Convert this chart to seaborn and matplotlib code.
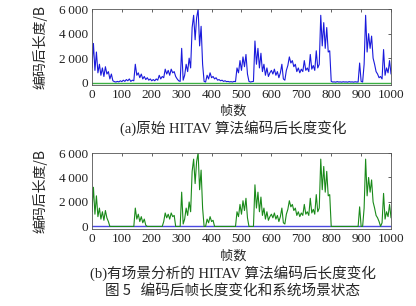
import numpy as np
import pandas as pd
import seaborn as sns
import matplotlib
matplotlib.use("Agg")
import matplotlib.pyplot as plt

# ---- data (frame length after coding, sampled every 5 frames) ----
frames = np.arange(0, 1001, 5)

len_original = [
    1200, 3200, 1000, 2500, 800, 1500, 600, 1200, 500, 1300,      # 0
    700, 900, 300, 700, 150, 80, 50, 100, 60, 150,                # 50
    80, 200, 100, 250, 150, 300, 100, 200, 150, 1500,             # 100
    600, 800, 400, 700, 300, 500, 250, 400, 200, 300,             # 150
    150, 250, 150, 300, 200, 600, 300, 500, 400, 1100,            # 200
    700, 1000, 600, 1100, 800, 900, 500, 300, 150, 100,           # 250
    2800, 200, 600, 1500, 900, 2000, 1200, 4500, 5500, 3500,      # 300
    5300, 6000, 3000, 4600, 1500, 100, 50, 600, 300, 800,         # 350
    400, 500, 300, 400, 200, 250, 150, 200, 100, 150,             # 400
    80, 100, 60, 80, 50, 100, 80, 1200, 800, 1800,                # 450
    1000, 2100, 1300, 2300, 700, 100, 50, 80, 100, 3400,          # 500
    1500, 2800, 1200, 2400, 900, 1500, 600, 1200, 500, 800,       # 550
    1000, 700, 1100, 600, 900, 400, 800, 1500, 300, 200,          # 600
    1000, 1400, 2100, 1600, 1800, 1300, 1500, 900, 1200, 800,     # 650
    1100, 900, 1800, 1000, 1200, 900, 2300, 1100, 1400, 1000,     # 700
    2600, 1200, 1500, 5500, 3000, 4900, 2800, 4500, 2500, 2600,   # 750
    100, 50, 60, 40, 80, 50, 60, 40, 70, 50,                      # 800
    60, 40, 80, 50, 60, 40, 70, 50, 50, 1600,                     # 850
    100, 50, 1500, 5500, 2500, 4000, 2800, 3800, 2000, 1500,      # 900
    900, 700, 400, 500, 300, 2700, 600, 1200, 800, 1800,          # 950
    700,                                                          # 1000
]

len_scene = [
    1200, 3200, 1000, 2500, 800, 1500, 600, 1200, 500, 1300,      # 0
    700, 400, 0, 0, 0, 0, 0, 0, 0, 0,                             # 50
    0, 0, 0, 0, 0, 0, 0, 0, 0, 1500,                              # 100
    600, 1000, 400, 800, 300, 600, 100, 0, 0, 0,                  # 150
    0, 0, 0, 0, 0, 0, 0, 0, 400, 1100,                            # 200
    700, 1000, 600, 1100, 800, 900, 0, 0, 0, 0,                   # 250
    2800, 200, 600, 1500, 900, 2000, 1200, 4500, 5500, 3500,      # 300
    5300, 6000, 3000, 4600, 1500, 0, 0, 600, 300, 800,            # 350
    400, 500, 0, 0, 0, 0, 0, 0, 0, 0,                             # 400
    0, 0, 0, 0, 0, 0, 0, 1200, 800, 1800,                         # 450
    1000, 2100, 1300, 2300, 700, 0, 0, 0, 0, 3400,                # 500
    1500, 2800, 1200, 2400, 900, 1500, 600, 1200, 500, 800,       # 550
    1000, 700, 1100, 600, 900, 400, 800, 1500, 300, 200,          # 600
    1000, 1400, 2100, 1600, 1800, 1300, 1500, 900, 1200, 800,     # 650
    1100, 900, 1800, 1000, 1200, 900, 2300, 1100, 1400, 1000,     # 700
    2600, 1200, 1500, 5500, 3000, 4900, 2800, 4500, 2500, 2600,   # 750
    0, 0, 0, 0, 0, 0, 0, 0, 0, 0,                                 # 800
    0, 0, 0, 0, 0, 0, 0, 0, 0, 1600,                              # 850
    0, 0, 1500, 5500, 2500, 4000, 2800, 3800, 2000, 1500,         # 900
    900, 700, 400, 0, 300, 2700, 600, 1200, 800, 1800,            # 950
    700,                                                          # 1000
]

state_frames = [0, 1000]
state_level = [0, 0]

yticks = [0, 2000, 4000, 6000]
ytick_labels = ["0", "2\u2009000", "4\u2009000", "6\u2009000"]
xticks = [0, 100, 200, 300, 400, 500, 600, 700, 800, 900, 1000]

ylabel = "编码后长度/B"
xlabel = "帧数"
caption_a = "(a)原始 HITAV 算法编码后长度变化"
caption_b = "(b)有场景分析的 HITAV 算法编码后长度变化"
fig_caption = "图 5   编码后帧长度变化和系统场景状态"

# ---- style ----
sns.set_style("white")
plt.rcParams['font.family'] = ['Liberation Serif', 'Noto Sans CJK SC', 'DejaVu Sans']

fig = plt.figure(figsize=(4.16, 3.06), dpi=100)
ax1 = fig.add_axes([0.221, 0.722, 0.719, 0.248])
ax2 = fig.add_axes([0.221, 0.252, 0.719, 0.248])

df_a = pd.DataFrame({"frame": frames, "len": len_original})
df_b = pd.DataFrame({"frame": frames, "len": len_scene})
df_s = pd.DataFrame({"frame": state_frames, "state": state_level})

sns.lineplot(data=df_s, x="frame", y="state", ax=ax1, color="#3cb043", lw=1.0)
sns.lineplot(data=df_a, x="frame", y="len", ax=ax1, color="#1a1adc", lw=0.8)
sns.lineplot(data=df_s, x="frame", y="state", ax=ax2, color="#4a4ae0", lw=1.0)
sns.lineplot(data=df_b, x="frame", y="len", ax=ax2, color="#1a8a1a", lw=0.8)

cjk = ['Noto Sans CJK SC', 'DejaVu Sans']
for ax in (ax1, ax2):
    ax.set_xlim(0, 1000)
    ax.set_ylim(-200, 6000)
    ax.set_xticks(xticks)
    ax.set_xticklabels([str(t) for t in xticks], fontsize=9.5)
    ax.set_yticks(yticks)
    ax.set_yticklabels(ytick_labels, fontsize=9.5)
    ax.tick_params(direction='in', length=2, width=0.5, top=True, right=True,
                   pad=3, colors='#222222')
    for s in ax.spines.values():
        s.set_color('#555555')
        s.set_linewidth(0.6)
    ax.set_xlabel("")
    ax.set_ylabel(ylabel, family=cjk, fontsize=10)
    ax.yaxis.set_label_coords(-0.15, 0.5)

fig.text(0.56, 1 - 111 / 306, xlabel, family=cjk, fontsize=9.5, ha='center', va='center')
fig.text(0.56, 1 - 128 / 306, caption_a, fontsize=10.5, ha='center', va='center')
fig.text(0.56, 1 - 256 / 306, xlabel, family=cjk, fontsize=9.5, ha='center', va='center')
fig.text(0.56, 1 - 273 / 306, caption_b, fontsize=10.5, ha='center', va='center')
fig.text(0.56, 1 - 291 / 306, fig_caption, family=cjk, fontsize=10.5, ha='center', va='center')

fig.savefig("out.png", dpi=100)
